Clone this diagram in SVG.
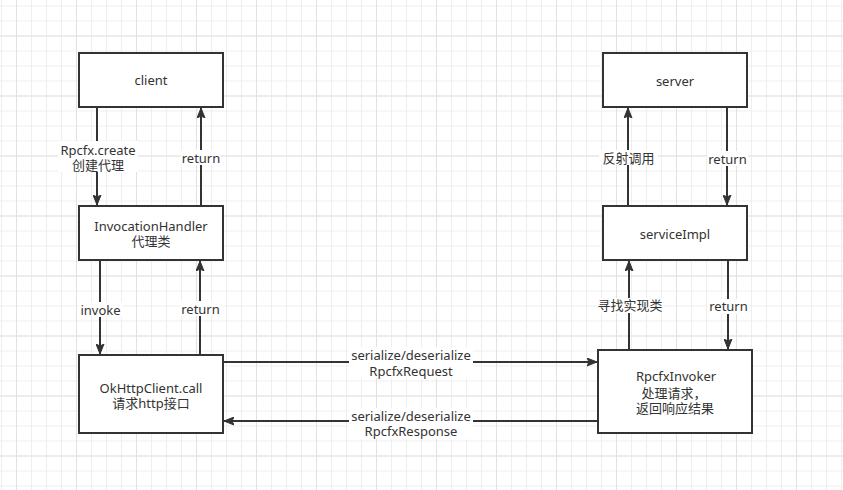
<svg xmlns="http://www.w3.org/2000/svg" width="843" height="490" viewBox="0 0 843 490">
<style>
.node rect{fill:#fff;stroke:#333;stroke-width:2}
text{font-family:"Noto Sans","Noto Sans CJK SC",sans-serif;font-size:13px;fill:#333;text-anchor:middle;dominant-baseline:central}
.conn path{fill:none;stroke:#333;stroke-width:2}
.lbl{fill:#fff}
</style>
<defs>
<pattern id="minor" width="15" height="15" x="1" y="5.5" patternUnits="userSpaceOnUse">
<path d="M0,0.5H15M0.5,0V15" stroke="#eeeeee" stroke-width="1" fill="none"/>
</pattern>
<pattern id="major" width="60" height="60" x="16" y="35.5" patternUnits="userSpaceOnUse">
<path d="M0,0.5H60M0.5,0V60" stroke="#e1e1e1" stroke-width="1" fill="none"/>
</pattern>
<marker id="arr" markerUnits="userSpaceOnUse" markerWidth="11" markerHeight="9" refX="10" refY="4.5" orient="auto" viewBox="0 0 11 9">
<path d="M0,0.5 L10,4.5 L0,8.5 L2,4.5 Z" fill="#333" stroke="#333" stroke-width="1"/>
</marker>
</defs>
<rect width="843" height="490" fill="#fff"/>
<rect width="843" height="490" fill="url(#minor)"/>
<rect width="843" height="490" fill="url(#major)"/>

<g id="connectors" class="conn">
<path d="M97,107 L97,205" marker-end="url(#arr)"/>
<path d="M201,206 L201,108" marker-end="url(#arr)"/>
<path d="M100,260 L100,354" marker-end="url(#arr)"/>
<path d="M200,355 L200,261" marker-end="url(#arr)"/>
<path d="M628,206 L628,108" marker-end="url(#arr)"/>
<path d="M727,107 L727,205" marker-end="url(#arr)"/>
<path d="M629,350 L629,261" marker-end="url(#arr)"/>
<path d="M728,260 L728,349" marker-end="url(#arr)"/>
<path d="M223,362 L597,362" marker-end="url(#arr)"/>
<path d="M752,421 L224,421" marker-end="url(#arr)"/>

<rect class="lbl" x="58" y="141" width="80" height="31"/>
<text x="98" y="149.5">Rpcfx.create</text>
<text x="98" y="164.5">创建代理</text>
<rect class="lbl" x="181" y="150" width="40" height="15"/>
<text x="201" y="157.5">return</text>
<rect class="lbl" x="79" y="302" width="43" height="15"/>
<text x="100.5" y="309.5">invoke</text>
<rect class="lbl" x="180" y="301" width="41" height="15"/>
<text x="200.5" y="308.5">return</text>
<rect class="lbl" x="599" y="150" width="59" height="15"/>
<text x="628.5" y="157.5">反射调用</text>
<rect class="lbl" x="707" y="151" width="41" height="15"/>
<text x="727.5" y="158.5">return</text>
<rect class="lbl" x="596" y="298" width="68" height="15"/>
<text x="630" y="305">寻找实现类</text>
<rect class="lbl" x="708" y="299" width="41" height="15"/>
<text x="728.5" y="306">return</text>
<rect class="lbl" x="349" y="347" width="124" height="31"/>
<text x="411" y="355">serialize/deserialize</text>
<text x="411" y="370.5">RpcfxRequest</text>
<rect class="lbl" x="349" y="408" width="124" height="31"/>
<text x="411" y="416">serialize/deserialize</text>
<text x="411" y="431">RpcfxResponse</text>
</g>

<g id="client" class="node">
<rect x="79" y="53" width="144" height="54"/>
<text x="151" y="80">client</text>
</g>
<g id="invocationHandler" class="node">
<rect x="79" y="206" width="144" height="54"/>
<text x="151" y="225.5">InvocationHandler</text>
<text x="151" y="241">代理类</text>
</g>
<g id="okHttpClient" class="node">
<rect x="79" y="355" width="144" height="78"/>
<text x="151" y="387.5">OkHttpClient.call</text>
<text x="151" y="403">请求http接口</text>
</g>
<g id="server" class="node">
<rect x="603" y="53" width="144" height="54"/>
<text x="675" y="80.5">server</text>
</g>
<g id="serviceImpl" class="node">
<rect x="603" y="206" width="144" height="54"/>
<text x="675" y="234">serviceImpl</text>
</g>
<g id="rpcfxInvoker" class="node">
<rect x="598" y="350" width="154" height="83"/>
<text x="676" y="376">RpcfxInvoker</text>
<text x="674" y="392.5">处理请求，</text>
<text x="675" y="408">返回响应结果</text>
</g>
</svg>
